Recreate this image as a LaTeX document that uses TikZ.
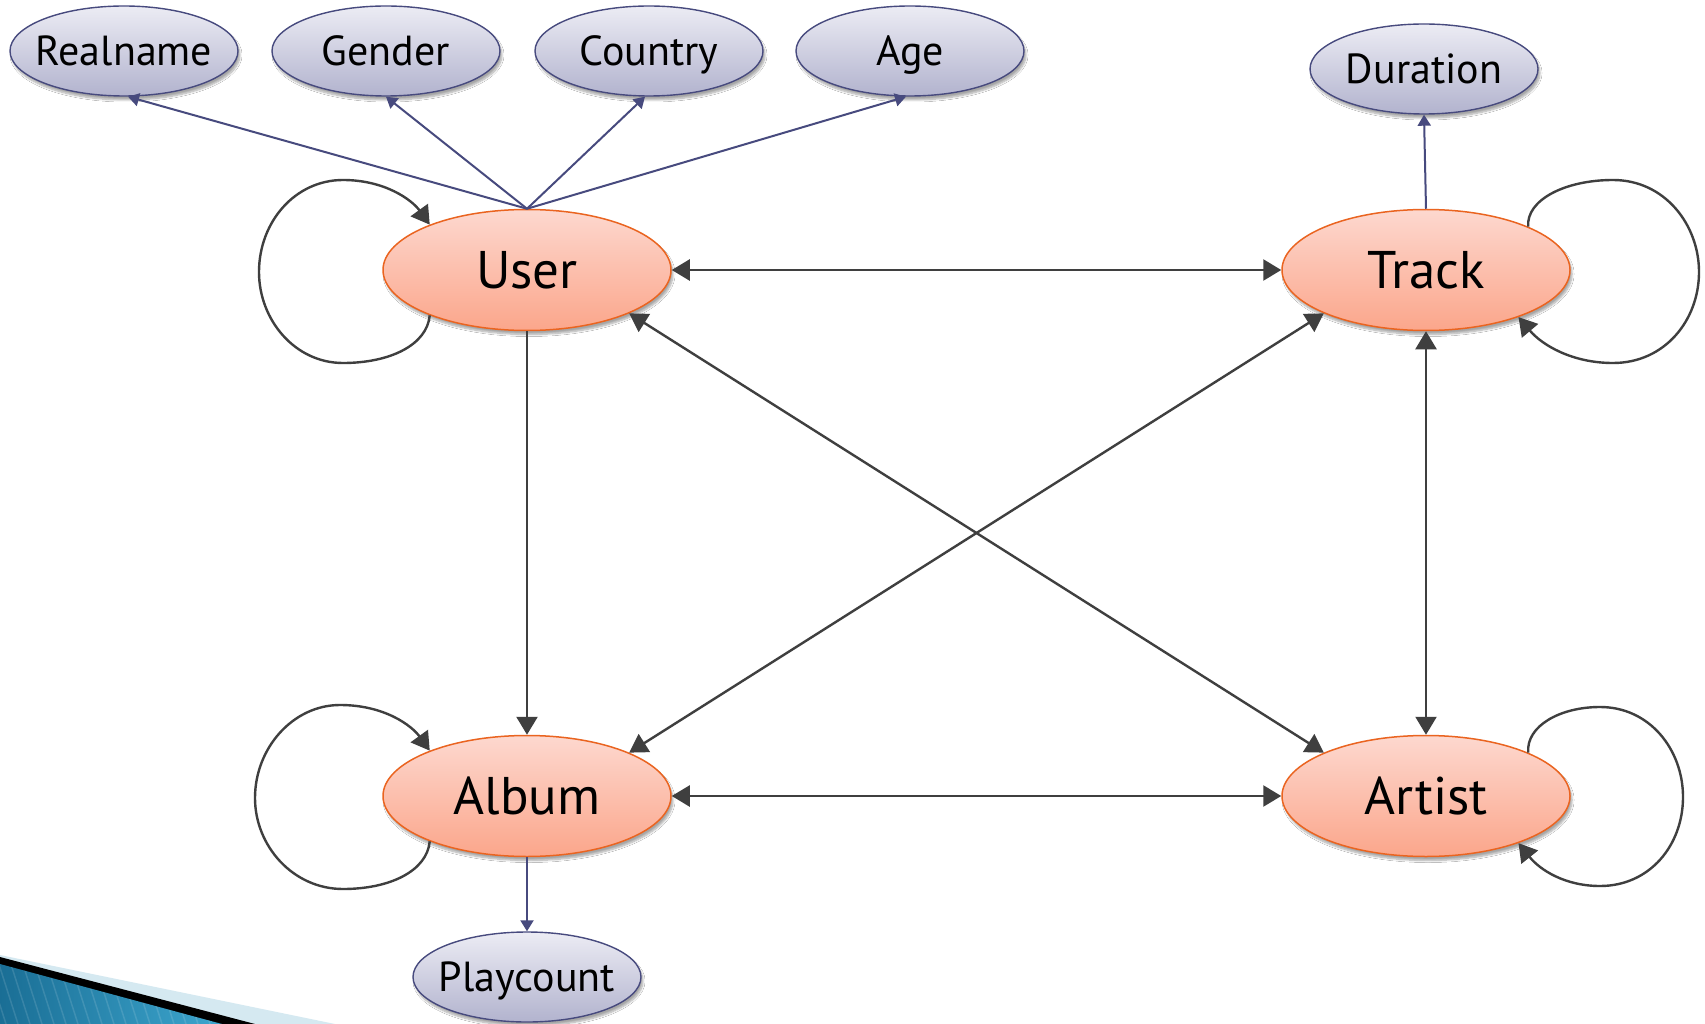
\documentclass[tikz,border=0pt]{standalone}
\usepackage{fontspec}
\setmainfont{PT Sans}
\usetikzlibrary{shapes.geometric,arrows.meta,shadows.blur}

\definecolor{entfillA}{HTML}{FDD8CF}
\definecolor{entfillB}{HTML}{FBA68B}
\definecolor{entline}{HTML}{EA6420}
\definecolor{attfillA}{HTML}{ECECF4}
\definecolor{attfillB}{HTML}{B2B3CE}
\definecolor{attline}{HTML}{474A7E}
\definecolor{reln}{HTML}{3F3F3F}
\definecolor{decoblueA}{HTML}{1A6E95}
\definecolor{decoblueB}{HTML}{3EA8D0}
\definecolor{decolight}{HTML}{D5E9F1}

\begin{document}
\begin{tikzpicture}[x=1pt,y=-1pt,
  >={Triangle[length=18pt,width=21pt]},
  entity/.style={ellipse, minimum width=288pt, minimum height=121pt, inner sep=0pt,
    draw=entline, line width=1.5pt, top color=entfillA, bottom color=entfillB,
    font=\fontsize{53}{53}\selectfont, text height=37pt, text depth=0pt,
    blur shadow={shadow xshift=2pt, shadow yshift=-4pt, shadow opacity=35, shadow blur steps=8}},
  attribute/.style={ellipse, minimum width=228pt, minimum height=90pt, inner sep=0pt,
    draw=attline, line width=1.4pt, top color=attfillA, bottom color=attfillB,
    font=\fontsize{42}{42}\selectfont, text height=29.5pt, text depth=0pt,
    blur shadow={shadow xshift=2pt, shadow yshift=-4pt, shadow opacity=35, shadow blur steps=8}},
  relation/.style={draw=reln, line width=2.4pt},
  attrlink/.style={draw=attline, line width=2pt, -{Triangle[length=11pt,width=13pt]}},
  selfloop/.style={draw=reln, line width=2.4pt, ->}
]
\fill[white] (0,0) rectangle (1705,1024);
\useasboundingbox (0,0) rectangle (1705,1024);

% corner decoration
\fill[decolight] (0,955) -- (335,1024) -- (0,1024) -- cycle;
\fill[black] (0,957) -- (255,1024) -- (0,1024) -- cycle;
\begin{scope}
  \clip (0,964) -- (222,1024) -- (0,1024) -- cycle;
  \shade[left color=decoblueA, right color=decoblueB] (0,955) rectangle (230,1024);
  \foreach \i in {-40,-28,...,240}
    \draw[white, opacity=0.12, line width=1.5pt] (\i,955) -- (\i+22,1024);
\end{scope}

% entities
\node[entity] (user)   at (527,270) {User};
\node[entity] (track)  at (1426,270) {Track};
\node[entity] (album)  at (527,796) {Album};
\node[entity] (artist) at (1426,796) {Artist};

% attributes
\node[attribute] (realname)  at (124,51)  {\makebox[0pt]{Realname}};
\node[attribute] (gender)    at (386,51)  {\makebox[0pt]{Gender}};
\node[attribute] (country)   at (649,51)  {\makebox[0pt]{Country}};
\node[attribute] (age)       at (910,51)  {\makebox[0pt]{Age}};
\node[attribute] (duration)  at (1424,69) {\makebox[0pt]{Duration}};
\node[attribute] (playcount) at (527,977) {\makebox[0pt]{Playcount}};

% attribute links
\draw[attrlink] (user.north) -- (realname.-85);
\draw[attrlink] (user.north) -- (gender.south);
\draw[attrlink] (user.north) -- (country.-95);
\draw[attrlink] (user.north) -- (age.-95);
\draw[attrlink] (track.north) -- (duration.south);
\draw[attrlink] (album.south) -- (playcount.north);

% relations between entities
\draw[relation, <->] (user.east) -- (track.west);
\draw[relation, ->] (user.south) -- (album.north);
\draw[relation, <->] (user.-23) -- (artist.157);
\draw[relation, <->] (track.203) -- (album.23);
\draw[relation, <->] (track.south) -- (artist.north);
\draw[relation, <->] (album.east) -- (artist.west);

% self relations
\draw[selfloop] (user.205) .. controls (427,345) and (390,363) .. (343,363)
  .. controls (295,363) and (259,320) .. (259,272)
  .. controls (259,222) and (295,180) .. (343,180)
  .. controls (385,180) and (412,200) .. (user.155);
\draw[selfloop] (album.205) .. controls (427,871) and (390,889) .. (343,889)
  .. controls (293,889) and (255,846) .. (255,798)
  .. controls (255,748) and (293,705) .. (340,705)
  .. controls (385,705) and (412,726) .. (album.155);
\draw[selfloop] (track.23) .. controls (1526,200) and (1565,180) .. (1613,180)
  .. controls (1665,180) and (1699,225) .. (1699,272)
  .. controls (1699,320) and (1665,363) .. (1613,363)
  .. controls (1572,363) and (1542,345) .. (track.-27);
\draw[selfloop] (artist.23) .. controls (1526,726) and (1560,707) .. (1600,707)
  .. controls (1650,707) and (1683,750) .. (1683,797)
  .. controls (1683,845) and (1650,886) .. (1600,886)
  .. controls (1565,886) and (1540,870) .. (artist.-27);
\end{tikzpicture}
\end{document}
